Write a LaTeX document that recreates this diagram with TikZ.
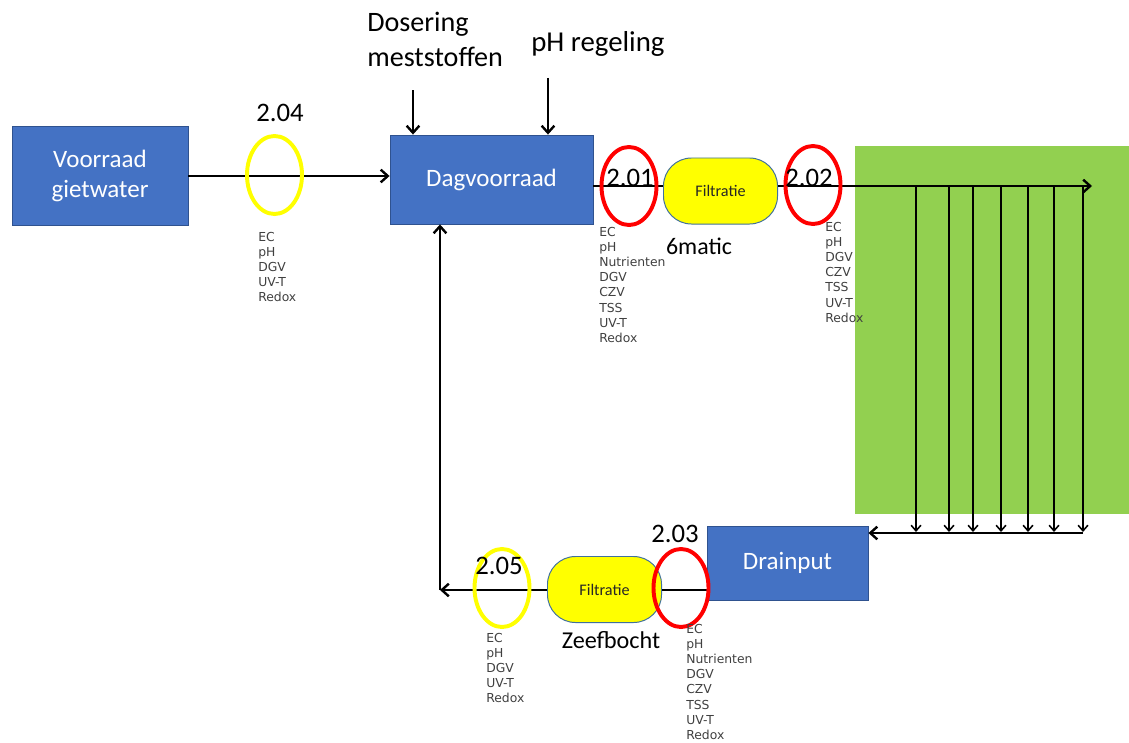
\documentclass[tikz,border=0pt]{standalone}
\usepackage{fontspec}
\setmainfont{Carlito}
\newfontfamily\listfont{DejaVu Sans}
\usetikzlibrary{shapes.geometric,positioning,arrows.meta}

\definecolor{boxblue}{HTML}{4472C4}
\definecolor{boxedge}{HTML}{2F528F}
\definecolor{filteredge}{HTML}{41719C}
\definecolor{kasgroen}{HTML}{92D050}
\definecolor{geel}{HTML}{FFFF00}
\definecolor{rood}{HTML}{FF0000}
\definecolor{listgray}{HTML}{404040}

\begin{document}
\begin{tikzpicture}[x=0.025cm,y=-0.025cm,
    blok/.style={rectangle,fill=boxblue,draw=boxedge,line width=0.6pt,text=white,align=center,font=\fontsize{17.8}{21}\selectfont},
    filter/.style={rectangle,rounded corners=0.7cm,fill=geel,draw=filteredge,line width=0.7pt,minimum width=2.85cm,minimum height=1.65cm,text=black!85,font=\fontsize{11.5}{13}\selectfont},
    meetpunt/.style={ellipse,line width=2.8pt,minimum width=1.375cm,minimum height=1.95cm,inner sep=0pt},
    nummer/.style={font=\fontsize{19}{22}\selectfont},
    meetlijst/.style={anchor=north west,inner sep=0pt,align=left,text=listgray,font=\listfont\fontsize{8.8}{10.76}\selectfont},
    leiding/.style={line width=1.7pt},
    pijl/.style={-{Straight Barb[length=5pt,width=9pt]},line width=1.7pt},
    druppel/.style={-{Straight Barb[length=4pt,width=7pt]},line width=1.1pt},
    ]
        \useasboundingbox (0,0) rectangle (1129,742);
        % kas
        \fill[kasgroen] (855,146) rectangle (1129,514);
        % blokken
        \node[blok,minimum width=4.4cm,minimum height=2.475cm] (voorraad) at (100,176) {Voorraad\\gietwater};
        \node[blok,minimum width=5.075cm,minimum height=2.225cm] (dag) at (491.5,179.5) {Dagvoorraad};
        \node[blok,minimum width=4.025cm,minimum height=1.85cm] (drain) at (787.5,563) {Drainput};
        \node[filter] (filt1) at (720.5,191) {Filtratie};
        \node[filter] (filt2) at (604.5,589.5) {Filtratie};
        \node[font=\fontsize{17}{20}\selectfont] (matic) at (699,246) {6matic};
        \node[font=\fontsize{17.2}{20}\selectfont] (zeef) at (611,640) {Zeefbocht};
        % dosering
        \node[anchor=north west,inner sep=0pt,align=left,font=\fontsize{20}{24.9}\selectfont] (dos) at (367,12) {Dosering\\meststoffen};
        \node[anchor=north west,inner sep=0pt,font=\fontsize{20.5}{24}\selectfont] (ph) at (531,31) {pH regeling};
        \coordinate (dosin) at (413,90);
        \coordinate (phin) at (548,78);
        \draw[pijl] (dosin) -- (dosin |- dag.north);
        \draw[pijl] (phin) -- (phin |- dag.north);
        % aanvoer
        \draw[pijl] (voorraad.east) -- (voorraad.east -| dag.west);
        \coordinate (uit) at (1092,186);
        \draw[leiding] (dag.east |- uit) -- (filt1.west |- uit);
        \draw[pijl] (filt1.east |- uit) -- (uit);
        \foreach \x in {916,949,973,1001,1028,1054,1083} {
            \draw[druppel] (\x,186) -- (\x,532);
        }
        % drain terug
        \coordinate (terug) at (1083,533);
        \draw[pijl] (terug) -- (terug -| drain.east);
        \coordinate (hoek) at (440,590);
        \draw[leiding] (drain.west |- hoek) -- (filt2.east |- hoek);
        \draw[pijl] (filt2.west |- hoek) -- (hoek);
        \draw[pijl] (hoek) -- (hoek |- dag.south);
        % meetpunten
        \node[meetpunt,draw=geel] (m204) at (274.5,175) {};
        \node[meetpunt,draw=rood] (m201) at (629,186) {};
        \node[meetpunt,draw=rood] (m202) at (813,185) {};
        \node[meetpunt,draw=rood] (m203) at (681,588) {};
        \node[meetpunt,draw=geel] (m205) at (502,588) {};
        \node[nummer] (n204) at (280,113) {2.04};
        \node[nummer] (n201) at (630,178) {2.01};
        \node[nummer] (n202) at (809,178) {2.02};
        \node[nummer] (n203) at (675,534) {2.03};
        \node[nummer] (n205) at (499,566) {2.05};
        \node[meetlijst] (l204) at (258,232) {EC\\pH\\DGV\\UV-T\\Redox};
        \node[meetlijst] (l201) at (599,227) {EC\\pH\\Nutrienten\\DGV\\CZV\\TSS\\UV-T\\Redox};
        \node[meetlijst] (l202) at (825,222) {EC\\pH\\DGV\\CZV\\TSS\\UV-T\\Redox};
        \node[meetlijst] (l203) at (686,624) {EC\\pH\\Nutrienten\\DGV\\CZV\\TSS\\UV-T\\Redox};
        \node[meetlijst] (l205) at (486,633) {EC\\pH\\DGV\\UV-T\\Redox};
    \end{tikzpicture}
\end{document}
